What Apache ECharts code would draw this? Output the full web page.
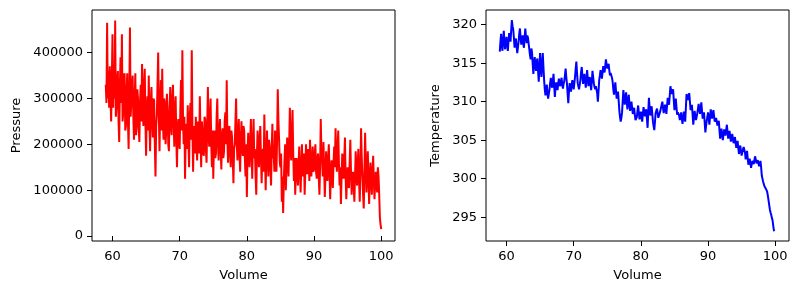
<!DOCTYPE html>
<html>
<head>
<meta charset="utf-8">
<script src="https://cdn.jsdelivr.net/npm/echarts@6/dist/echarts.min.js"></script>
<style>
html,body{margin:0;padding:0;background:#fff;}
#chart{width:799px;height:294px;}
</style>
</head>
<body>
<div id="chart"></div>
<script>
// Volume values (shared by both panels)
const volumes = [
59.0,59.1,59.2,59.3,59.4,59.5,59.6,59.7,59.8,59.9,
60.0,60.1,60.2,60.3,60.4,60.5,60.6,60.7,60.8,60.9,
61.0,61.1,61.2,61.3,61.4,61.5,61.6,61.7,61.8,61.9,
62.0,62.1,62.2,62.3,62.4,62.5,62.6,62.7,62.8,62.9,
63.0,63.1,63.2,63.3,63.4,63.5,63.6,63.7,63.8,63.9,
64.0,64.1,64.2,64.3,64.4,64.5,64.6,64.7,64.8,64.9,
65.0,65.1,65.2,65.3,65.4,65.5,65.6,65.7,65.8,65.9,
66.0,66.1,66.2,66.3,66.4,66.5,66.6,66.7,66.8,66.9,
67.0,67.1,67.2,67.3,67.4,67.5,67.6,67.7,67.8,67.9,
68.0,68.1,68.2,68.3,68.4,68.5,68.6,68.7,68.8,68.9,
69.0,69.1,69.2,69.3,69.4,69.5,69.6,69.7,69.8,69.9,
70.0,70.1,70.2,70.3,70.4,70.5,70.6,70.7,70.8,70.9,
71.0,71.1,71.2,71.3,71.4,71.5,71.6,71.7,71.8,71.9,
72.0,72.1,72.2,72.3,72.4,72.5,72.6,72.7,72.8,72.9,
73.0,73.1,73.2,73.3,73.4,73.5,73.6,73.7,73.8,73.9,
74.0,74.1,74.2,74.3,74.4,74.5,74.6,74.7,74.8,74.9,
75.0,75.1,75.2,75.3,75.4,75.5,75.6,75.7,75.8,75.9,
76.0,76.1,76.2,76.3,76.4,76.5,76.6,76.7,76.8,76.9,
77.0,77.1,77.2,77.3,77.4,77.5,77.6,77.7,77.8,77.9,
78.0,78.1,78.2,78.3,78.4,78.5,78.6,78.7,78.8,78.9,
79.0,79.1,79.2,79.3,79.4,79.5,79.6,79.7,79.8,79.9,
80.0,80.1,80.2,80.3,80.4,80.5,80.6,80.7,80.8,80.9,
81.0,81.1,81.2,81.3,81.4,81.5,81.6,81.7,81.8,81.9,
82.0,82.1,82.2,82.3,82.4,82.5,82.6,82.7,82.8,82.9,
83.0,83.1,83.2,83.3,83.4,83.5,83.6,83.7,83.8,83.9,
84.0,84.1,84.2,84.3,84.4,84.5,84.6,84.7,84.8,84.9,
85.0,85.1,85.2,85.3,85.4,85.5,85.6,85.7,85.8,85.9,
86.0,86.1,86.2,86.3,86.4,86.5,86.6,86.7,86.8,86.9,
87.0,87.1,87.2,87.3,87.4,87.5,87.6,87.7,87.8,87.9,
88.0,88.1,88.2,88.3,88.4,88.5,88.6,88.7,88.8,88.9,
89.0,89.1,89.2,89.3,89.4,89.5,89.6,89.7,89.8,89.9,
90.0,90.1,90.2,90.3,90.4,90.5,90.6,90.7,90.8,90.9,
91.0,91.1,91.2,91.3,91.4,91.5,91.6,91.7,91.8,91.9,
92.0,92.1,92.2,92.3,92.4,92.5,92.6,92.7,92.8,92.9,
93.0,93.1,93.2,93.3,93.4,93.5,93.6,93.7,93.8,93.9,
94.0,94.1,94.2,94.3,94.4,94.5,94.6,94.7,94.8,94.9,
95.0,95.1,95.2,95.3,95.4,95.5,95.6,95.7,95.8,95.9,
96.0,96.1,96.2,96.3,96.4,96.5,96.6,96.7,96.8,96.9,
97.0,97.1,97.2,97.3,97.4,97.5,97.6,97.7,97.8,97.9,
98.0,98.1,98.2,98.3,98.4,98.5,98.6,98.7,98.8,98.9,
99.0,99.1,99.2,99.3,99.4,99.5,99.6,99.7,99.8,99.9,
100.0
];

// Pressure values (left panel)
const pressures = [
330000,290000,465000,300000,360000,280000,370000,300000,250000,340000,
440000,280000,350000,300000,470000,260000,285000,340000,360000,250000,
205000,330000,390000,290000,440000,250000,270000,350000,355000,230000,
240000,320000,355000,250000,190000,310000,455000,260000,290000,330000,
350000,260000,210000,300000,355000,220000,235000,320000,300000,240000,
205000,290000,330000,250000,375000,280000,240000,330000,365000,250000,
175000,280000,305000,230000,350000,240000,185000,290000,325000,250000,
215000,300000,295000,200000,130000,240000,265000,330000,400000,260000,
185000,290000,340000,230000,365000,250000,210000,300000,290000,200000,
230000,310000,270000,200000,185000,280000,325000,240000,220000,300000,
330000,250000,195000,280000,305000,210000,150000,240000,255000,200000,
190000,280000,340000,230000,405000,250000,200000,260000,125000,220000,
245000,190000,285000,210000,150000,260000,290000,210000,405000,230000,
140000,240000,225000,180000,260000,200000,165000,250000,240000,180000,
305000,220000,150000,250000,230000,180000,175000,260000,255000,190000,
160000,240000,325000,220000,195000,260000,300000,200000,150000,230000,
125000,200000,230000,170000,180000,260000,300000,200000,165000,230000,
255000,190000,145000,220000,235000,170000,185000,250000,270000,200000,
340000,210000,160000,230000,240000,180000,150000,230000,215000,170000,
115000,190000,200000,250000,300000,200000,165000,220000,255000,180000,
140000,210000,250000,190000,175000,240000,230000,170000,130000,200000,
85000,180000,225000,170000,150000,210000,255000,180000,125000,200000,
255000,170000,190000,130000,90000,180000,230000,190000,150000,210000,
240000,170000,115000,180000,190000,140000,265000,180000,100000,170000,
230000,170000,130000,210000,195000,150000,110000,190000,245000,170000,
175000,140000,230000,190000,140000,210000,320000,250000,210000,160000,
150000,180000,75000,130000,50000,120000,165000,200000,100000,150000,
215000,170000,130000,200000,280000,190000,165000,230000,275000,180000,
120000,170000,90000,150000,170000,130000,110000,160000,195000,140000,
95000,150000,200000,130000,140000,180000,90000,140000,200000,150000,
135000,190000,165000,120000,210000,160000,130000,170000,195000,140000,
145000,180000,200000,140000,125000,170000,180000,130000,90000,150000,
255000,180000,165000,130000,205000,150000,85000,130000,185000,140000,
120000,170000,200000,140000,80000,130000,165000,120000,105000,160000,
195000,150000,235000,170000,140000,190000,230000,160000,110000,150000,
70000,130000,180000,150000,125000,170000,215000,130000,80000,120000,
150000,110000,105000,160000,210000,140000,90000,130000,140000,110000,
75000,130000,185000,140000,110000,160000,190000,120000,75000,140000,
235000,170000,130000,90000,60000,140000,225000,160000,95000,140000,
185000,120000,70000,130000,160000,120000,90000,140000,175000,120000,
80000,120000,140000,110000,95000,150000,130000,90000,40000,25000,
15000
];

// Temperature values (right panel)
const temperatures = [
316.5,317.8,318.8,317.2,316.6,318.0,319.2,317.5,316.8,317.9,
318.4,317.3,316.6,317.9,318.9,318.2,317.8,319.3,320.6,319.8,
319.4,318.3,317.0,317.8,318.2,317.2,316.3,317.0,317.8,318.8,
319.5,318.3,317.4,318.0,318.6,317.5,317.0,318.4,319.5,318.4,
317.6,318.6,318.3,317.5,316.8,316.0,315.5,316.9,316.4,314.9,
313.6,314.8,315.8,314.7,314.0,315.2,315.6,314.0,312.6,314.4,
316.3,314.5,313.2,314.8,316.3,314.5,312.8,311.6,310.8,311.7,
312.2,311.0,310.4,311.0,311.6,312.4,313.1,312.2,311.8,312.7,
313.6,312.0,310.6,311.8,312.5,312.0,311.5,312.4,313.0,312.4,
312.0,312.6,313.1,312.2,311.7,312.3,312.7,313.4,314.3,313.2,
312.3,311.0,309.8,311.3,312.4,311.9,311.3,312.1,312.8,312.2,
311.6,312.4,313.2,314.3,315.2,313.7,312.4,312.0,311.6,312.2,
312.8,313.8,314.5,313.3,312.3,313.0,313.6,312.7,311.8,312.9,
314.1,313.0,312.0,312.7,313.2,312.3,311.5,312.6,314.0,313.2,
312.4,311.9,311.6,312.0,312.2,311.1,310.0,311.4,312.8,313.4,
314.1,313.5,313.0,313.8,314.6,314.1,313.8,314.6,315.5,314.8,
314.3,314.6,314.9,314.1,313.4,313.7,313.6,313.1,312.6,311.6,
310.9,311.8,312.5,311.4,310.4,310.9,311.3,310.1,308.8,308.0,
307.4,307.9,308.6,310.1,311.5,310.5,309.6,310.4,311.2,310.1,
309.0,310.0,310.9,309.7,308.8,309.4,310.0,309.2,308.4,308.8,
309.2,308.3,307.6,307.8,308.0,308.8,309.5,308.5,307.7,308.2,
308.7,308.0,307.4,308.4,309.3,308.7,308.1,308.6,309.0,307.8,
306.6,308.6,310.5,309.3,308.2,308.8,309.4,308.4,307.4,306.8,
306.3,307.4,308.5,308.8,309.1,308.5,307.9,308.2,308.4,308.8,
309.2,309.6,310.0,309.2,308.5,309.1,309.6,309.0,308.4,309.5,
310.5,310.1,309.6,310.8,312.0,311.5,311.0,311.3,311.6,310.2,
308.9,309.6,310.4,309.3,308.3,308.6,308.8,308.2,307.6,308.1,
308.6,307.8,307.1,307.9,308.7,308.0,307.4,309.2,311.0,310.6,
310.2,310.7,311.1,310.0,308.9,309.3,309.6,308.3,307.0,307.9,
308.8,308.2,307.6,308.0,308.5,309.1,309.7,309.0,308.4,309.1,
309.9,308.8,307.8,308.2,308.6,307.3,306.0,306.8,307.5,308.0,
308.6,307.8,307.0,308.0,309.0,308.4,307.8,308.4,308.9,308.1,
307.4,307.6,307.9,307.4,306.9,307.2,307.5,306.3,305.2,305.8,
306.5,305.7,305.0,305.7,306.4,306.0,305.6,306.3,307.0,306.1,
305.2,305.7,306.2,305.5,304.8,305.3,305.8,305.2,304.6,305.0,
305.4,304.7,304.0,304.5,304.9,304.0,303.2,303.8,304.3,303.6,
303.0,303.4,303.8,304.1,304.3,303.4,302.5,303.0,303.6,302.7,
301.8,302.2,302.6,302.0,301.4,301.9,302.3,302.1,301.9,302.4,
302.9,302.5,302.0,302.2,302.4,302.0,301.6,302.0,302.3,301.5,
300.4,300.0,299.6,299.3,299.0,298.8,298.7,298.5,298.3,297.8,
297.2,296.6,296.0,295.6,295.3,294.9,294.6,293.9,293.3,293.2,
293.2
];

// Tick labels
const volumeTicks = [60, 70, 80, 90, 100];
const pressureTicks = [0, 100000, 200000, 300000, 400000];
const temperatureTicks = [295, 300, 305, 310, 315, 320];

const font = 'DejaVu Sans';
const chart = echarts.init(document.getElementById('chart'), null, {renderer: 'canvas'});

function xAxisCfg(gridIndex) {
  return {
    type: 'value', gridIndex: gridIndex,
    min: 56.95, max: 102.05,
    name: 'Volume', nameLocation: 'middle', nameGap: 28,
    nameTextStyle: {fontFamily: font, fontSize: 13, color: '#000'},
    axisLine: {show: false},
    axisTick: {show: true, length: 5, customValues: volumeTicks, lineStyle: {color: '#000', width: 1}},
    axisLabel: {customValues: volumeTicks, fontFamily: font, fontSize: 13, color: '#000', margin: 9,
      formatter: v => String(v)},
    splitLine: {show: false}
  };
}

const option = {
  animation: false,
  backgroundColor: '#fff',
  grid: [
    {left: 92, top: 10, width: 303, height: 231, show: true, borderColor: '#000', borderWidth: 1, backgroundColor: 'transparent'},
    {left: 486, top: 10, width: 303, height: 231, show: true, borderColor: '#000', borderWidth: 1, backgroundColor: 'transparent'}
  ],
  xAxis: [xAxisCfg(0), xAxisCfg(1)],
  yAxis: [
    {
      type: 'value', gridIndex: 0,
      min: -10900, max: 493000,
      name: 'Pressure', nameLocation: 'middle', nameGap: 69,
      nameTextStyle: {fontFamily: font, fontSize: 13, color: '#000'},
      axisLine: {show: false},
      axisTick: {show: true, length: 5, customValues: pressureTicks, lineStyle: {color: '#000', width: 1}},
      axisLabel: {customValues: pressureTicks, fontFamily: font, fontSize: 13, color: '#000', margin: 9,
        formatter: v => String(v)},
      splitLine: {show: false}
    },
    {
      type: 'value', gridIndex: 1,
      min: 291.9, max: 321.9,
      name: 'Temperature', nameLocation: 'middle', nameGap: 44,
      nameTextStyle: {fontFamily: font, fontSize: 13, color: '#000'},
      axisLine: {show: false},
      axisTick: {show: true, length: 5, customValues: temperatureTicks, lineStyle: {color: '#000', width: 1}},
      axisLabel: {customValues: temperatureTicks, fontFamily: font, fontSize: 13, color: '#000', margin: 9,
        formatter: v => String(v)},
      splitLine: {show: false}
    }
  ],
  series: [
    {
      type: 'line', xAxisIndex: 0, yAxisIndex: 0, symbol: 'none',
      lineStyle: {color: '#ff0000', width: 2}, itemStyle: {color: '#ff0000'},
      data: volumes.map((v, i) => [v, pressures[i]])
    },
    {
      type: 'line', xAxisIndex: 1, yAxisIndex: 1, symbol: 'none',
      lineStyle: {color: '#0000ff', width: 2}, itemStyle: {color: '#0000ff'},
      data: volumes.map((v, i) => [v, temperatures[i]])
    }
  ]
};
chart.setOption(option);
</script>
</body>
</html>
